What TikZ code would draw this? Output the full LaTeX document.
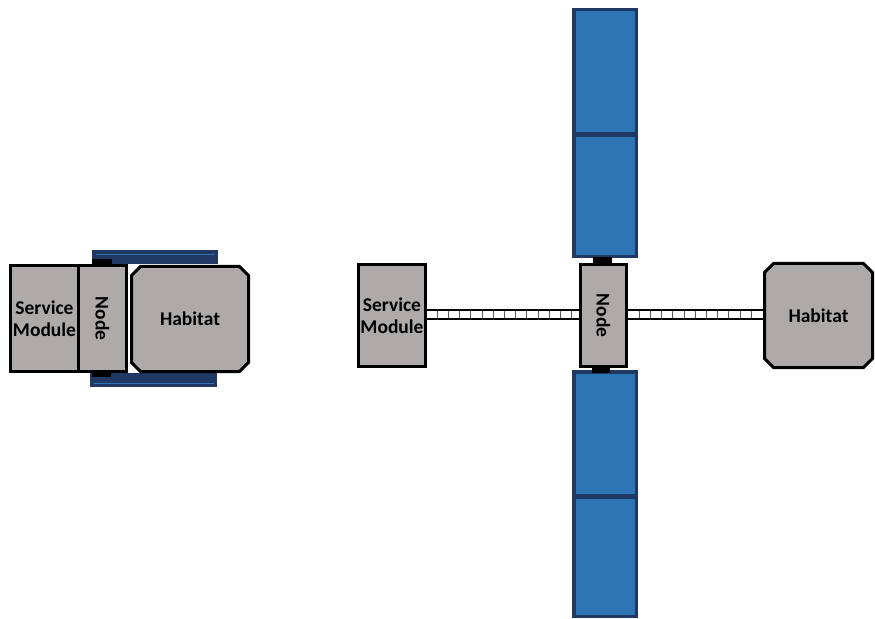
\documentclass[tikz,border=0pt]{standalone}
\usepackage{fontspec}
\setmainfont{Carlito}
\usetikzlibrary{shapes.misc,calc}
\definecolor{modgray}{HTML}{AEAAAA}
\definecolor{navy}{HTML}{203864}
\definecolor{panelblue}{HTML}{2E75B6}
\definecolor{trussgray}{HTML}{595959}
\begin{document}
\begin{tikzpicture}[x=1bp,y=-1bp,
  module/.style={draw=black, fill=modgray, line width=3bp, inner sep=0pt,
    font=\fontsize{19.5bp}{22bp}\selectfont\bfseries, align=center},
  habitat/.style={module, chamfered rectangle, chamfered rectangle xsep=4.5bp,
    chamfered rectangle ysep=4.5bp},
  panel/.style={draw=navy, fill=panelblue, line width=3.5bp},
  edgepanel/.style={fill=navy},
  panelline/.style={draw=panelblue, line width=1bp},
  joint/.style={fill=black},
  trussedge/.style={draw=black, line width=2bp},
  trusscell/.style={draw=trussgray, line width=1bp}]
\useasboundingbox (0,0) rectangle (875,619);

% ---------- left configuration (stowed) ----------
\fill[edgepanel] (92,249.5) rectangle (218,263.5);
\draw[panelline] (96,254) -- (215,254);
\fill[edgepanel] (90,373) rectangle (217,387);
\draw[panelline] (94,383) -- (214,383);
\fill[joint] (92,259) rectangle (112,265);
\fill[joint] (92,371) rectangle (111,377);

\node[module, minimum width=68bp, minimum height=106bp] (lsm) at (44.5,318.5) {Service\\Module};
\node[module, rotate=-90, minimum width=106bp, minimum height=48bp] (lnode) at (102.5,318.5) {Node};
\node[habitat, minimum width=117bp, minimum height=105bp] (lhab) at (190,319) {Habitat};

% ---------- right configuration (deployed) ----------
\draw[panel] (573.75,9.75) rectangle (636.25,256.25);
\fill[navy] (572,132) rectangle (638,137);
\draw[panel] (573.75,371.75) rectangle (636.25,616.25);
\fill[navy] (572,494) rectangle (638,499);
\fill[joint] (593,256.5) rectangle (612,264);
\fill[joint] (592,367) rectangle (610,372.5);

\node[module, minimum width=67bp, minimum height=102bp] (rsm) at (392,315.5) {Service\\Module};
\node[module, rotate=-90, minimum width=102bp, minimum height=46bp] (rnode) at (603.5,315.5) {Node};
\node[habitat, minimum width=108bp, minimum height=104bp] (rhab) at (818.5,315.5) {Habitat};

% truss: service module to node
\fill[white] ($(rsm.east)+(0,-5.5)$) rectangle ($(rnode.south)+(0,3.5)$);
\foreach \x in {437.2,448.4,...,576} \draw[trusscell] (\x,310) -- (\x,319);
\draw[trussedge] ($(rsm.east)+(0,-5.5)$) -- ($(rnode.south)+(0,-5.5)$);
\draw[trussedge] ($(rsm.east)+(0,3.5)$) -- ($(rnode.south)+(0,3.5)$);

% truss: node to habitat
\fill[white] ($(rnode.north)+(0,-5.5)$) rectangle ($(rhab.west)+(0,3.5)$);
\foreach \x in {639.2,650.4,...,760} \draw[trusscell] (\x,310) -- (\x,319);
\draw[trussedge] ($(rnode.north)+(0,-5.5)$) -- ($(rhab.west)+(0,-5.5)$);
\draw[trussedge] ($(rnode.north)+(0,3.5)$) -- ($(rhab.west)+(0,3.5)$);
\end{tikzpicture}
\end{document}
